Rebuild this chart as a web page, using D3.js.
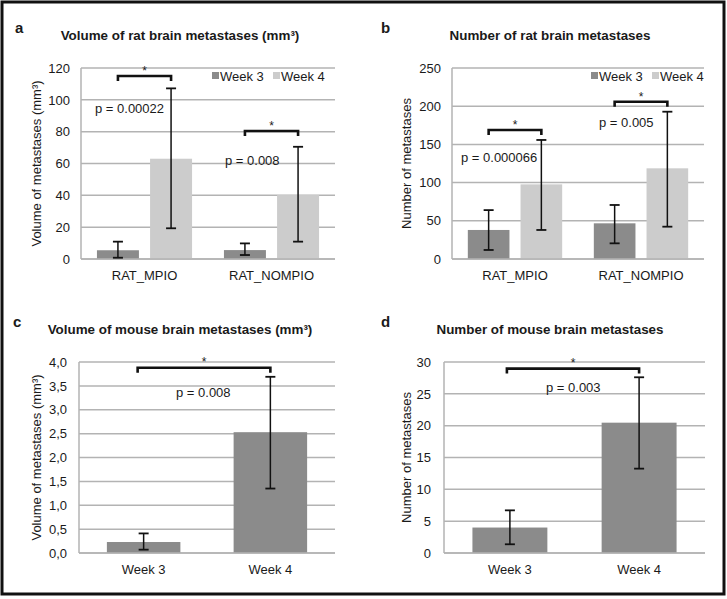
<!DOCTYPE html>
<html>
<head>
<meta charset="utf-8">
<script src="https://cdn.jsdelivr.net/npm/d3@7"></script>
<style>
  html, body { margin: 0; padding: 0; background: #fff; }
  svg text { font-family: Arial, "Liberation Sans", Helvetica, sans-serif; fill: #1a1a1a; }
</style>
</head>
<body>
<svg id="chart" width="727" height="599"></svg>
<script>
// ---------- DATA ----------
const ratCategories = ["RAT_MPIO", "RAT_NOMPIO"];
const seriesNames = ["Week 3", "Week 4"];

// Panel a: volume of rat brain metastases (mm3)
const ratVolumeWeek3 = [5.5, 5.6];
const ratVolumeWeek3Lo = [0.8, 2.5];
const ratVolumeWeek3Hi = [10.9, 9.8];
const ratVolumeWeek4 = [63, 40.2];
const ratVolumeWeek4Lo = [19.3, 10.9];
const ratVolumeWeek4Hi = [107.2, 70.5];
const ratVolumeTicks = [0, 20, 40, 60, 80, 100, 120];
const ratVolumeBrackets = [115, 80.4];
const ratVolumePLabels = ["p = 0.00022", "p = 0.008"];

// Panel b: number of rat brain metastases
const ratNumberWeek3 = [38, 46.7];
const ratNumberWeek3Lo = [11.8, 20.5];
const ratNumberWeek3Hi = [64, 70.7];
const ratNumberWeek4 = [97.7, 118.7];
const ratNumberWeek4Lo = [38, 42.3];
const ratNumberWeek4Hi = [155.8, 192.8];
const ratNumberTicks = [0, 50, 100, 150, 200, 250];
const ratNumberBrackets = [168.8, 205.9];
const ratNumberPLabels = ["p = 0.000066", "p = 0.005"];

// Panel c: volume of mouse brain metastases (mm3)
const mouseCategories = ["Week 3", "Week 4"];
const mouseVolume = [0.23, 2.53];
const mouseVolumeLo = [0.07, 1.35];
const mouseVolumeHi = [0.41, 3.69];
const mouseVolumeTicks = [0, 0.5, 1, 1.5, 2, 2.5, 3, 3.5, 4];
const mouseVolumeBracket = 3.88;
const mouseVolumePLabel = "p = 0.008";

// Panel d: number of mouse brain metastases
const mouseNumber = [4.0, 20.47];
const mouseNumberLo = [1.37, 13.25];
const mouseNumberHi = [6.7, 27.6];
const mouseNumberTicks = [0, 5, 10, 15, 20, 25, 30];
const mouseNumberBracket = 28.96;
const mouseNumberPLabel = "p = 0.003";

// ---------- STYLE ----------
const COL_W3 = "#8b8b8b";
const COL_W4 = "#cccccc";
const GRID = "#b3b3b3";
const FONT = 13;

const svg = d3.select("#chart");

// outer frame
svg.append("rect").attr("x", 2).attr("y", 2).attr("width", 722).attr("height", 592)
  .attr("fill", "none").attr("stroke", "#111").attr("stroke-width", 3);

function drawPanel(cfg) {
  const g = svg.append("g");
  const y = d3.scaleLinear().domain(cfg.domain).range([cfg.y1, cfg.y0]);

  // gridlines
  g.selectAll("line.grid").data(cfg.ticks).join("line")
    .attr("x1", cfg.x0).attr("x2", cfg.x1)
    .attr("y1", d => y(d)).attr("y2", d => y(d))
    .attr("stroke", GRID).attr("stroke-width", 1.5);
  // left axis line
  g.append("line").attr("x1", cfg.x0).attr("x2", cfg.x0)
    .attr("y1", y(cfg.domain[1])).attr("y2", y(0))
    .attr("stroke", GRID).attr("stroke-width", 1.5);

  // tick labels via d3 axis
  const axis = d3.axisLeft(y).tickValues(cfg.ticks).tickSize(0).tickPadding(cfg.tickPad)
    .tickFormat(cfg.fmt);
  const ax = g.append("g").attr("transform", `translate(${cfg.x0},0)`).call(axis);
  ax.select(".domain").remove();
  ax.selectAll("text").attr("font-size", FONT).attr("fill", "#1a1a1a")
    .style("font-family", 'Arial, "Liberation Sans", sans-serif');

  // bars
  const x = d3.scaleBand().domain(cfg.categories).range([cfg.x0, cfg.x1]);
  let bars = [];
  if (cfg.series) {
    x.padding(0);
    const x1 = d3.scaleBand().domain(seriesNames).range([0, x.bandwidth()])
      .paddingInner(0.21).paddingOuter(0.3);
    cfg.categories.forEach((c, i) => {
      cfg.series.forEach((s, j) => {
        bars.push({ x: x(c) + x1(seriesNames[j]), w: x1.bandwidth(), v: s.v[i], lo: s.lo[i], hi: s.hi[i], color: s.color });
      });
    });
  } else {
    x.paddingInner(0.42).paddingOuter(0.22);
    cfg.categories.forEach((c, i) => {
      bars.push({ x: x(c), w: x.bandwidth(), v: cfg.values[i], lo: cfg.lo[i], hi: cfg.hi[i], color: COL_W3 });
    });
  }
  g.selectAll("rect.bar").data(bars).join("rect")
    .attr("x", d => d.x).attr("width", d => d.w)
    .attr("y", d => y(d.v)).attr("height", d => y(0) - y(d.v))
    .attr("fill", d => d.color);

  // redraw baseline over bars
  g.append("line").attr("x1", cfg.x0).attr("x2", cfg.x1)
    .attr("y1", y(0)).attr("y2", y(0)).attr("stroke", GRID).attr("stroke-width", 1.5);

  // error bars
  const eb = g.selectAll("g.eb").data(bars).join("g");
  eb.append("line").attr("x1", d => d.x + d.w / 2).attr("x2", d => d.x + d.w / 2)
    .attr("y1", d => y(d.hi)).attr("y2", d => y(d.lo)).attr("stroke", "#111").attr("stroke-width", 1.5);
  [ "hi", "lo" ].forEach(k => {
    eb.append("line").attr("x1", d => d.x + d.w / 2 - 5).attr("x2", d => d.x + d.w / 2 + 5)
      .attr("y1", d => y(d[k])).attr("y2", d => y(d[k])).attr("stroke", "#111").attr("stroke-width", 1.8);
  });

  // category labels
  cfg.categories.forEach(c => {
    g.append("text").attr("x", x(c) + x.bandwidth() / 2).attr("y", y(0) + 21)
      .attr("text-anchor", "middle").attr("font-size", FONT).text(c);
  });

  // brackets
  cfg.brackets.forEach(b => {
    const xa = bars[b.from].x + bars[b.from].w / 2 + (b.dx0 || 0);
    const xb = bars[b.to].x + bars[b.to].w / 2;
    const yb = y(b.value);
    g.append("path").attr("d", `M${xa},${yb + 5}V${yb}H${xb}V${yb + 5}`)
      .attr("fill", "none").attr("stroke", "#111").attr("stroke-width", 2.6);
    g.append("text").attr("x", (xa + xb) / 2).attr("y", yb - 1 + (b.starDy || 0))
      .attr("text-anchor", "middle").attr("font-size", 12).text("*");
    g.append("text").attr("x", b.px).attr("y", b.py).attr("font-size", FONT).text(b.label);
  });

  // title, letter, y label
  g.append("text").attr("x", cfg.titleX).attr("y", cfg.titleY).attr("text-anchor", "middle")
    .attr("font-size", 13.4).attr("font-weight", "bold").text(cfg.title);
  g.append("text").attr("x", cfg.letterX).attr("y", cfg.letterY)
    .attr("font-size", 15).attr("font-weight", "bold").text(cfg.letter);
  g.append("text")
    .attr("transform", `translate(${cfg.ylabX},${(cfg.y0 + cfg.y1) / 2 + (cfg.ylabDy || 0)}) rotate(-90)`)
    .attr("text-anchor", "middle").attr("dy", "0.35em").attr("font-size", FONT).text(cfg.ylabel);

  // legend
  if (cfg.legend) {
    cfg.legend.forEach((l, i) => {
      g.append("rect").attr("x", l.x).attr("y", l.y - 6).attr("width", 7).attr("height", 7)
        .attr("fill", cfg.series[i].color);
      g.append("text").attr("x", l.x + 8).attr("y", l.y + 3).attr("font-size", FONT).text(seriesNames[i]);
    });
  }
}

drawPanel({
  x0: 81, x1: 335, y0: 68, y1: 259, domain: [0, 120], ticks: ratVolumeTicks, tickPad: 11,
  fmt: d3.format("d"), categories: ratCategories,
  series: [
    { v: ratVolumeWeek3, lo: ratVolumeWeek3Lo, hi: ratVolumeWeek3Hi, color: COL_W3 },
    { v: ratVolumeWeek4, lo: ratVolumeWeek4Lo, hi: ratVolumeWeek4Hi, color: COL_W4 }
  ],
  brackets: [
    { from: 0, to: 1, value: ratVolumeBrackets[0], label: ratVolumePLabels[0], px: 95, py: 113 },
    { from: 2, to: 3, value: ratVolumeBrackets[1], label: ratVolumePLabels[1], px: 225, py: 165 }
  ],
  legend: [{ x: 212, y: 78 }, { x: 273, y: 78 }],
  title: "Volume of rat brain metastases (mm³)", titleX: 180, titleY: 40,
  letter: "a", letterX: 15, letterY: 33,
  ylabel: "Volume of metastases (mm³)", ylabX: 36, ylabDy: 0
});

drawPanel({
  x0: 452, x1: 704, y0: 68, y1: 259, domain: [0, 250], ticks: ratNumberTicks, tickPad: 11,
  fmt: d3.format("d"), categories: ratCategories,
  series: [
    { v: ratNumberWeek3, lo: ratNumberWeek3Lo, hi: ratNumberWeek3Hi, color: COL_W3 },
    { v: ratNumberWeek4, lo: ratNumberWeek4Lo, hi: ratNumberWeek4Hi, color: COL_W4 }
  ],
  brackets: [
    { from: 0, to: 1, value: ratNumberBrackets[0], label: ratNumberPLabels[0], px: 461, py: 162 },
    { from: 2, to: 3, value: ratNumberBrackets[1], label: ratNumberPLabels[1], px: 599, py: 127 }
  ],
  legend: [{ x: 591, y: 78 }, { x: 652, y: 78 }],
  title: "Number of rat brain metastases", titleX: 550, titleY: 40,
  letter: "b", letterX: 381, letterY: 33,
  ylabel: "Number of metastases", ylabX: 406, ylabDy: 0
});

const commaFmt = d => d3.format(".1f")(d).replace(".", ",");

drawPanel({
  x0: 79, x1: 335, y0: 362, y1: 553, domain: [0, 4], ticks: mouseVolumeTicks, tickPad: 12,
  fmt: commaFmt, categories: mouseCategories,
  values: mouseVolume, lo: mouseVolumeLo, hi: mouseVolumeHi,
  brackets: [
    { from: 0, to: 1, value: mouseVolumeBracket, label: mouseVolumePLabel, px: 176, py: 397, dx0: -6, starDy: -1 }
  ],
  title: "Volume of mouse brain metastases (mm³)", titleX: 180, titleY: 334,
  letter: "c", letterX: 13, letterY: 327,
  ylabel: "Volume of metastases (mm³)", ylabX: 36, ylabDy: 0
});

drawPanel({
  x0: 444, x1: 705, y0: 362, y1: 553, domain: [0, 30], ticks: mouseNumberTicks, tickPad: 13,
  fmt: d3.format("d"), categories: mouseCategories,
  values: mouseNumber, lo: mouseNumberLo, hi: mouseNumberHi,
  brackets: [
    { from: 0, to: 1, value: mouseNumberBracket, label: mouseNumberPLabel, px: 546, py: 392, dx0: -3, starDy: -1 }
  ],
  title: "Number of mouse brain metastases", titleX: 550, titleY: 334,
  letter: "d", letterX: 381, letterY: 327,
  ylabel: "Number of metastases", ylabX: 406, ylabDy: 0
});
</script>
</body>
</html>
